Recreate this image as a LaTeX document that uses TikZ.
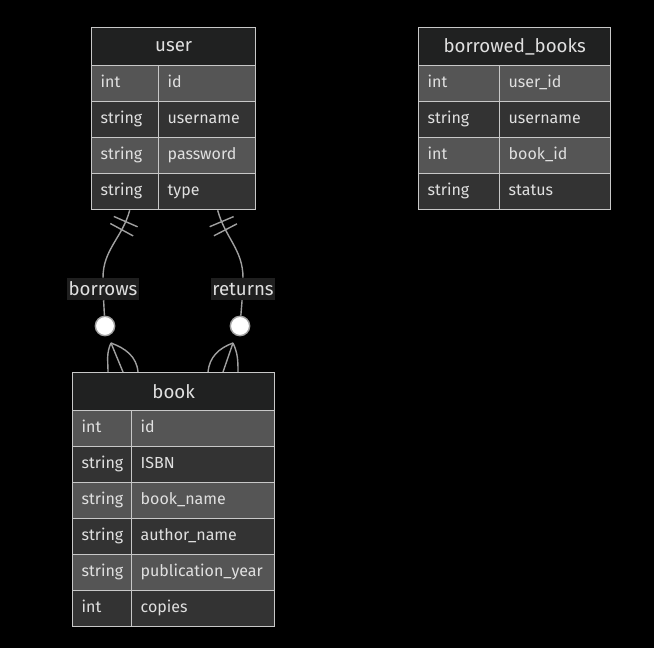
\documentclass[tikz,border=0pt]{standalone}
\usepackage{fontspec}
\setmainfont{Fira Sans}
\usetikzlibrary{positioning, decorations.markings}

\definecolor{edge}{HTML}{C8C8C8}
\definecolor{titlefill}{HTML}{202121}
\definecolor{rowlight}{HTML}{555555}
\definecolor{rowdark}{HTML}{333333}
\definecolor{txt}{HTML}{E0E0E0}
\definecolor{linecol}{HTML}{A0A0A0}
\definecolor{lblbg}{HTML}{1F1F1F}

\tikzset{
  ttl/.style={draw=edge, line width=1pt, fill=titlefill, text=txt, anchor=north west,
    minimum width=#1, minimum height=28.5pt, inner sep=0pt,
    font=\fontsize{14}{16}\selectfont},
  cell/.style={draw=edge, line width=1pt, text=txt, anchor=north west,
    text width=#1, align=left, inner xsep=6.75pt, inner ysep=0pt,
    minimum height=27pt, text height=9pt, text depth=3pt,
    font=\fontsize{12}{14}\selectfont},
  lite/.style={cell=#1, fill=rowlight},
  dark/.style={cell=#1, fill=rowdark},
  rel/.style={draw=linecol, line width=1.05pt},
  onebar/.style={postaction={decorate, decoration={markings,
    mark=at position 9pt with {\draw[rel] (0,-9.75pt) -- (0,9.75pt);},
    mark=at position 15.75pt with {\draw[rel] (0,-9.75pt) -- (0,9.75pt);}}}},
  lbl/.style={fill=lblbg, text=txt, inner xsep=1pt, inner ysep=0pt,
    minimum height=16.5pt, font=\fontsize{14}{16}\selectfont},
  zero/.style={circle, draw=linecol, line width=1.05pt, fill=white,
    minimum size=14.5pt, inner sep=0pt}
}

\begin{document}
\begin{tikzpicture}[x=0.75pt, y=-0.75pt]
\fill[black] (0,0) rectangle (654,648);
\useasboundingbox (0,0) rectangle (654,648);

% user
\node[ttl=123pt] (ut) at (91,27) {user};
\node[lite=36.75pt] (u1a) at (91,65) {int};
\node[lite=59.25pt] (u1b) at (158,65) {id};
\node[dark=36.75pt] (u2a) at (91,101) {string};
\node[dark=59.25pt] (u2b) at (158,101) {username};
\node[lite=36.75pt] (u3a) at (91,137) {string};
\node[lite=59.25pt] (u3b) at (158,137) {password};
\node[dark=36.75pt] (u4a) at (91,173) {string};
\node[dark=59.25pt] (u4b) at (158,173) {type};

% borrowed_books
\node[ttl=144pt] (bbt) at (418,27) {borrowed\_books};
\node[lite=47.25pt] (bb1a) at (418,65) {int};
\node[lite=69.75pt] (bb1b) at (499,65) {user\_id};
\node[dark=47.25pt] (bb2a) at (418,101) {string};
\node[dark=69.75pt] (bb2b) at (499,101) {username};
\node[lite=47.25pt] (bb3a) at (418,137) {int};
\node[lite=69.75pt] (bb3b) at (499,137) {book\_id};
\node[dark=47.25pt] (bb4a) at (418,173) {string};
\node[dark=69.75pt] (bb4b) at (499,173) {status};

% book
\node[ttl=151.5pt] (bt) at (72,372) {book};
\node[lite=30.75pt] (b1a) at (72,410) {int};
\node[lite=93.75pt] (b1b) at (131,410) {id};
\node[dark=30.75pt] (b2a) at (72,446) {string};
\node[dark=93.75pt] (b2b) at (131,446) {ISBN};
\node[lite=30.75pt] (b3a) at (72,482) {string};
\node[lite=93.75pt] (b3b) at (131,482) {book\_name};
\node[dark=30.75pt] (b4a) at (72,518) {string};
\node[dark=93.75pt] (b4b) at (131,518) {author\_name};
\node[lite=30.75pt] (b5a) at (72,554) {string};
\node[lite=93.75pt] (b5b) at (131,554) {publication\_year};
\node[dark=30.75pt] (b6a) at (72,590) {int};
\node[dark=93.75pt] (b6b) at (131,590) {copies};

% borrows
\node[lbl] (borrows) at (103,289) {borrows};
\node[zero] (c1) at (105,326) {};
\coordinate (f1) at (111,343);
\draw[rel, onebar] ([xshift=3.4pt]u4a.south) to[out=-105,in=90] (borrows);
\draw[rel] (borrows) -- (c1);
\draw[rel] (f1) to[out=-115,in=90] ([xshift=27pt]bt.north west);
\draw[rel] (f1) -- ([xshift=38.25pt]bt.north west);
\draw[rel] (f1) to[out=-20,in=95] ([xshift=49.5pt]bt.north west);

% returns
\node[lbl] (returns) at (243,289) {returns};
\node[zero] (c2) at (240,326) {};
\coordinate (f2) at (233,343);
\draw[rel, onebar] ([xshift=7.9pt]u4b.south) to[out=-75,in=90] (returns);
\draw[rel] (returns) -- (c2);
\draw[rel] (f2) to[out=-160,in=85] ([xshift=102pt]bt.north west);
\draw[rel] (f2) -- ([xshift=113.25pt]bt.north west);
\draw[rel] (f2) to[out=-65,in=90] ([xshift=124.5pt]bt.north west);
\end{tikzpicture}
\end{document}
